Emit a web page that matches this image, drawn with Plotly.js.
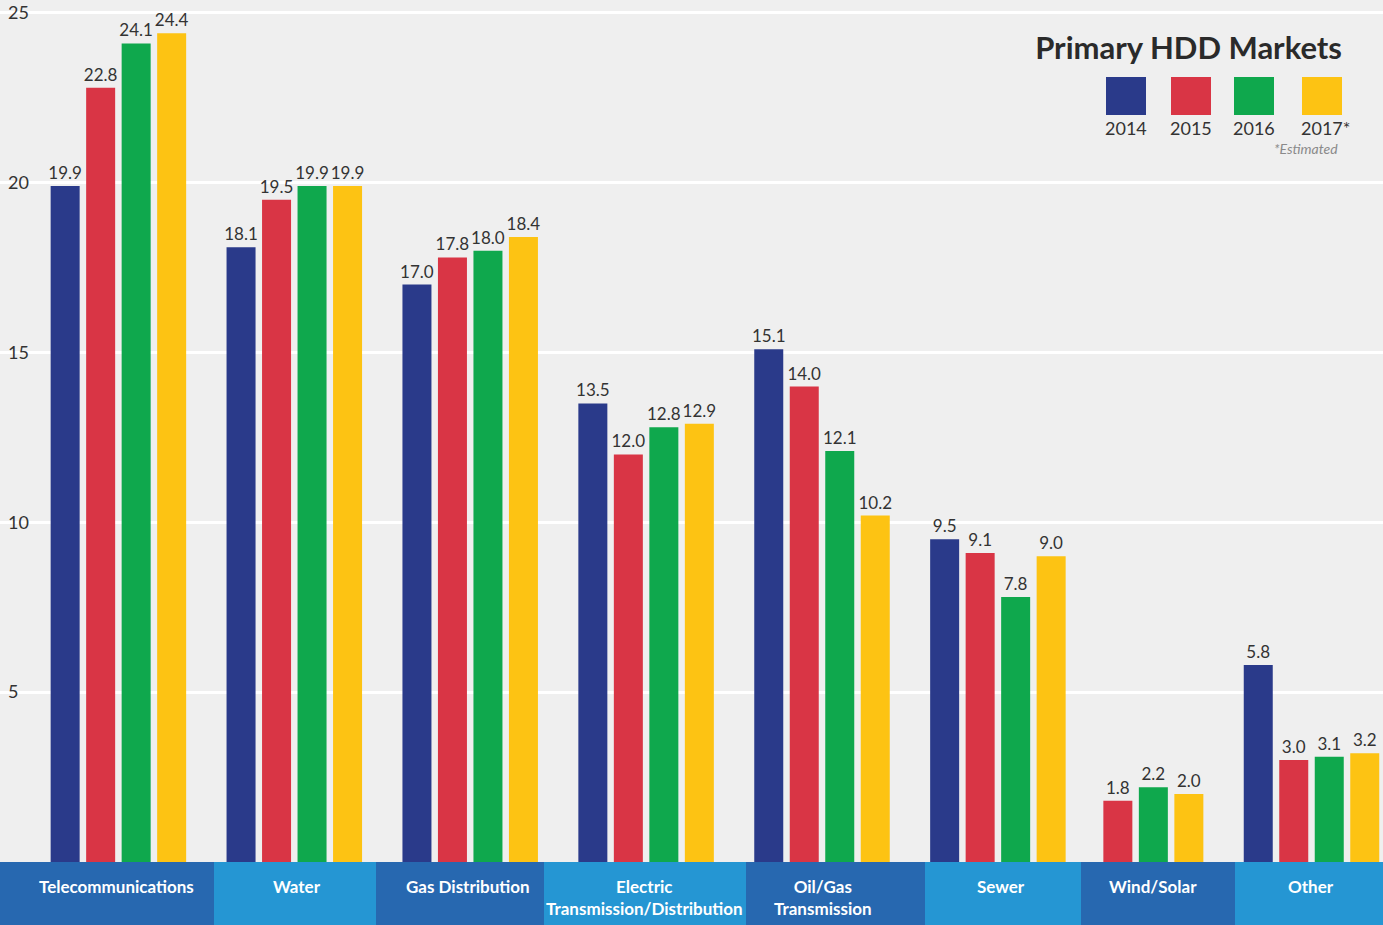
<!DOCTYPE html>
<html>
<head>
<meta charset="utf-8">
<script src="https://cdn.plot.ly/plotly-3.0.1.min.js"></script>
<style>
html,body{margin:0;padding:0;background:#efefef;}
#chart{width:1383px;height:925px;}
</style>
</head>
<body>
<div id="chart"></div>
<script>
// ---- data ----
const categories = ["Telecommunications","Water","Gas Distribution","Electric<br>Transmission/Distribution","Oil/Gas<br>Transmission","Sewer","Wind/Solar","Other"];
const years = ["2014","2015","2016","2017*"];
const values2014 = [19.9, 18.1, 17.0, 13.5, 15.1, 9.5, null, 5.8];
const values2015 = [22.8, 19.5, 17.8, 12.0, 14.0, 9.1, 1.8, 3.0];
const values2016 = [24.1, 19.9, 18.0, 12.8, 12.1, 7.8, 2.2, 3.1];
const values2017 = [24.4, 19.9, 18.4, 12.9, 10.2, 9.0, 2.0, 3.2];
const yTicks = [5, 10, 15, 20, 25];
const chartTitle = "Primary HDD Markets";
const footnote = "*Estimated";

// ---- styles / layout ----
const colors = ["#2a3a8a", "#d93545", "#0fa84d", "#fdc313"];
const bandColors = ["#2768b0", "#2596d3"];
const FONT = "Lato, Roboto, 'Noto Sans', sans-serif";
const W = 1383, H = 925, B = 63;
const PH = H - B;
const px = x => x / W;
const py = y => (PH - y) / PH;

// the reference packs the last two groups a little tighter: two x-axes on one y-axis
const SPLIT = 6;           // categories shown on the second x-axis start here
const splitPx = 1074;      // pixel where the second x-axis begins
const unitPx = 175.9;      // pixels per category
const firstCenterPx = 118.4;
const secondFirstCenterPx = 1135.6;

const series = [values2014, values2015, values2016, values2017];
const traces = [];
series.forEach((vals, i) => {
  [[0, SPLIT, "x"], [SPLIT, categories.length, "x2"]].forEach(([a, b, xa]) => {
    traces.push({
      type: "bar",
      name: years[i],
      x: categories.slice(a, b),
      y: vals.slice(a, b),
      xaxis: xa, yaxis: "y",
      offsetgroup: String(i),
      marker: {color: colors[i]},
      texttemplate: "%{y:.1f}",
      textposition: "outside",
      constraintext: "none",
      textfont: {family: FONT, size: 17, color: "#333333"},
      cliponaxis: false,
      hoverinfo: "x+y+name",
      showlegend: false
    });
  });
});

// bottom band boxes (pixel edges) and label centres (pixels)
const bandEdges = [0, 214, 376, 544, 746, 925, 1081, 1235, 1383];
const labelCenters = [116, 297, 468, 644, 823, 1001, 1153, 1311];
const shapes = [];
const annotations = [];
for (let i = 0; i < bandEdges.length - 1; i++) {
  shapes.push({type: "rect", xref: "paper", yref: "paper",
    x0: px(bandEdges[i]), x1: px(bandEdges[i + 1]), y0: py(925), y1: py(862),
    fillcolor: bandColors[i % 2], line: {width: 0}, layer: "below"});
  annotations.push({xref: "paper", yref: "paper", x: px(labelCenters[i]), y: py(874),
    text: "<b>" + categories[i] + "</b>", showarrow: false, xanchor: "center", yanchor: "top",
    align: "center", font: {family: FONT, size: 17, color: "#ffffff"}});
}
// legend swatches
const swX = [1106, 1171, 1234, 1302];
swX.forEach((x, i) => {
  shapes.push({type: "rect", xref: "paper", yref: "paper",
    x0: px(x), x1: px(x + 40), y0: py(115), y1: py(77),
    fillcolor: colors[i], line: {width: 0}});
  annotations.push({xref: "paper", yref: "paper", x: px(x + 20 + (i === 3 ? 3 : 0)), y: py(128),
    text: years[i], showarrow: false, xanchor: "center", yanchor: "middle",
    font: {family: FONT, size: 18, color: "#333333"}});
});
annotations.push({xref: "paper", yref: "paper", x: px(1340), y: py(148),
  text: "<i>" + footnote + "</i>", showarrow: false, xanchor: "right", yanchor: "middle",
  font: {family: FONT, size: 14, color: "#8a8a8a"}});

const xCommon = {
  type: "category",
  showgrid: false, zeroline: false, showline: false, ticks: "",
  showticklabels: false, fixedrange: true
};

const layout = {
  width: W, height: H,
  margin: {l: 0, r: 0, t: 0, b: B, pad: 0},
  paper_bgcolor: "#efefef",
  plot_bgcolor: "#efefef",
  title: {text: "<b>" + chartTitle + "</b>", x: px(1342), xanchor: "right", xref: "paper",
    y: 1 - 48 / H, yref: "container", yanchor: "middle",
    font: {family: FONT, size: 31, color: "#2a2a2a"}},
  barmode: "group",
  bargap: 1 - 142 / unitPx,
  bargroupgap: 0.183,
  xaxis: Object.assign({}, xCommon, {
    domain: [0, px(splitPx)],
    range: [-firstCenterPx / unitPx, (splitPx - firstCenterPx) / unitPx],
    anchor: "y"
  }),
  xaxis2: Object.assign({}, xCommon, {
    domain: [px(splitPx), 1],
    range: [-(secondFirstCenterPx - splitPx) / unitPx, (W - secondFirstCenterPx) / unitPx],
    anchor: "y"
  }),
  yaxis: {
    range: [0, 25.38],
    tickvals: yTicks,
    ticktext: yTicks.map(String),
    ticklabelposition: "inside",
    ticklabelstandoff: 5,
    showgrid: true, gridcolor: "#ffffff", gridwidth: 3,
    zeroline: false, showline: false, ticks: "",
    tickfont: {family: FONT, size: 18, color: "#333333"},
    fixedrange: true
  },
  shapes: shapes,
  annotations: annotations,
  font: {family: FONT}
};

Plotly.newPlot("chart", traces, layout, {displayModeBar: false, staticPlot: true});
</script>
</body>
</html>
